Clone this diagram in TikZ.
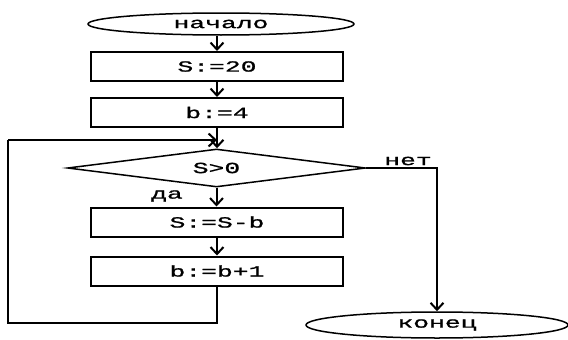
\documentclass[tikz,border=0pt]{standalone}
\usepackage{fontspec}
\newfontfamily\monof[FakeStretch=1.7,FakeBold=1.2]{Liberation Mono}
\usetikzlibrary{shapes.geometric,arrows.meta}
\begin{document}
\begin{tikzpicture}[x=1pt,y=-1pt, line width=2pt,
  txt/.style={font=\monof\fontsize{15.5}{18}\selectfont},
  term/.style={ellipse, draw, line width=1.5pt, inner sep=0pt, txt},
  proc/.style={rectangle, draw, minimum width=252pt, minimum height=29pt, inner sep=0pt, txt},
  dec/.style={diamond, draw, line width=1.5pt, minimum width=298pt, minimum height=38pt, inner sep=0pt, aspect=7.8, txt},
  arr/.style={-{Straight Barb[length=7pt,width=13pt]}},
  lbl/.style={inner sep=0pt, txt}]
\useasboundingbox (0,0) rectangle (568,340);
\node[term, minimum width=266pt, minimum height=22pt] (start) at (221,24) {начало};
\node[proc] (s1) at (217,66.5) {S:=20};
\node[proc] (b1) at (217,112.5) {b:=4};
\node[dec] (cond) at (216.5,168) {S>0};
\node[proc] (s2) at (217,222) {S:=S-b};
\node[proc] (b2) at (217,271) {b:=b+1};
\node[term, minimum width=262pt, minimum height=26pt] (end) at (437,325) {конец};
\node[lbl] (nolbl) at (408,161) {нет};
\node[lbl] (yeslbl) at (167,196) {да};
\coordinate (loopbl) at (8,323);
\coordinate (looptl) at (8,140);
\draw[arr] (start.south -| s1.north) -- (s1.north);
\draw[arr] (s1.south) -- (b1.north);
\draw[arr] (b1.south) -- (b1.south |- cond.north);
\draw[arr] (cond.south) -- (cond.south |- s2.north);
\draw[arr] (s2.south) -- (b2.north);
\draw (b2.south) -- (b2.south |- loopbl) -- (loopbl) -- (looptl);
\draw[arr] (looptl) -- (b1.south |- looptl);
\draw[arr] (cond.east) -- (cond.east -| end.north) -- (end.north);
\end{tikzpicture}
\end{document}
